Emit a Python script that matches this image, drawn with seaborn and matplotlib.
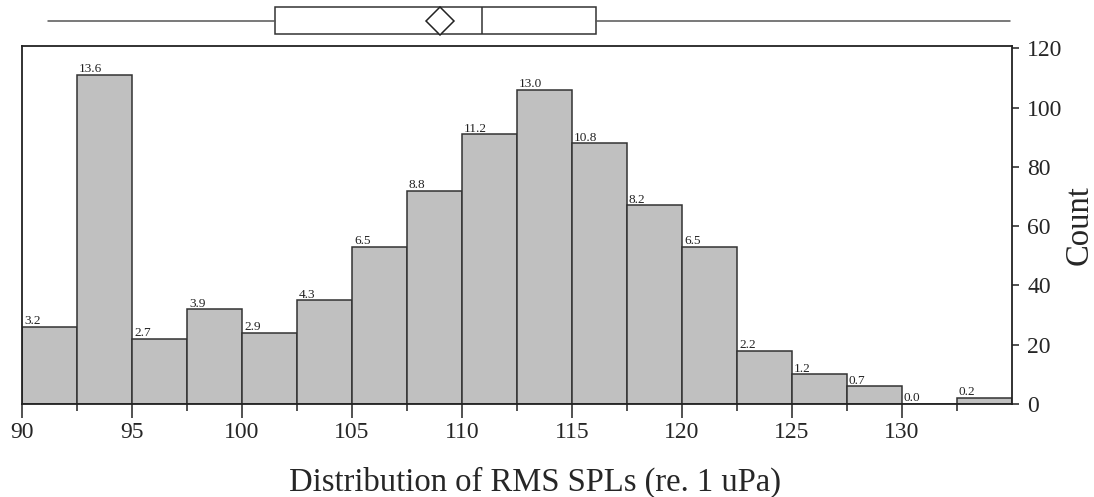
import matplotlib
matplotlib.use("Agg")
import matplotlib.pyplot as plt
import seaborn as sns
import pandas as pd

# ---- data ----
bin_edges = [90, 92.5, 95, 97.5, 100, 102.5, 105, 107.5, 110, 112.5,
             115, 117.5, 120, 122.5, 125, 127.5, 130, 132.5, 135]
counts = [26, 111, 22, 32, 24, 35, 53, 72, 91, 106, 88, 67, 53, 18, 10, 6, 0, 2]
x_ticks = [90, 95, 100, 105, 110, 115, 120, 125, 130]
x_minor = [92.5, 97.5, 102.5, 107.5, 112.5, 117.5, 122.5, 127.5, 132.5]
y_ticks = [0, 20, 40, 60, 80, 100, 120]

# box-plot summary (RMS SPL, dB re 1 uPa)
box_whislo = 91.2
box_q1 = 101.5
box_med = 110.9
box_q3 = 116.1
box_whishi = 134.9
box_mean = 109.0

sns.set_theme(style="ticks")
plt.rcParams['font.family'] = ['Liberation Serif', 'DejaVu Serif']

W, H = 1094, 497
fig = plt.figure(figsize=(W / 100, H / 100), dpi=100)

# ---- main histogram ----
ax = fig.add_axes([22 / W, 1 - 404 / H, 990 / W, (404 - 45.5) / H])
centers = [(a + b) / 2 for a, b in zip(bin_edges[:-1], bin_edges[1:])]
df = pd.DataFrame({'spl': centers, 'n': counts})
sns.histplot(data=df, x='spl', weights='n', bins=bin_edges, color='#c0c0c0',
             edgecolor='#333333', linewidth=1.1, alpha=1, ax=ax)

total = sum(counts)
for p, c in zip(ax.patches, counts):
    ax.text(p.get_x() + 0.09, p.get_height() + 0.9, f"{100 * c / total:.1f}",
            ha='left', va='baseline', fontsize=9.5, color='#222222')

ax.set_xlim(90, 135)
ax.set_ylim(0, 121)
ax.set_xticks(x_ticks)
ax.set_xticks(x_minor, minor=True)
ax.set_yticks(y_ticks)
ax.yaxis.tick_right()
ax.set_xlabel('')
ax.set_ylabel('')
for s in ax.spines.values():
    s.set_visible(True)
    s.set_color('#222222')
    s.set_linewidth(1.3)
ax.tick_params(axis='x', which='major', direction='out', length=10, width=1.1,
               color='#222222', labelsize=17, pad=3, bottom=True)
ax.tick_params(axis='x', which='minor', direction='out', length=5, width=1.1,
               color='#222222', bottom=True)
ax.tick_params(axis='y', which='major', direction='out', length=5, width=1.1,
               color='#222222', labelsize=17, pad=6, right=True, left=False)

fig.text(535 / W, 1 - 491 / H, 'Distribution of RMS SPLs (re. 1 uPa)',
         ha='center', va='baseline', fontsize=23.5)
fig.text(1079 / W, 1 - 225 / H, 'Count', rotation=90, ha='center',
         va='center', fontsize=23.5)

# ---- box plot on top ----
ax2 = fig.add_axes([22 / W, 1 - 37 / H, 990 / W, 33 / H])
stats = [dict(med=box_med, q1=box_q1, q3=box_q3, whislo=box_whislo,
              whishi=box_whishi, mean=box_mean, fliers=[])]
kw = dict(positions=[0], widths=0.8, showmeans=True, showcaps=False,
          showfliers=False, patch_artist=True,
          meanprops=dict(marker='D', markerfacecolor='white',
                         markeredgecolor='#222222', markersize=14,
                         markeredgewidth=1.1),
          boxprops=dict(facecolor='white', edgecolor='#333333', linewidth=1.1),
          medianprops=dict(color='#333333', linewidth=1.1),
          whiskerprops=dict(color='#555555', linewidth=1.1))
try:
    ax2.bxp(stats, orientation='horizontal', **kw)
except TypeError:
    ax2.bxp(stats, vert=False, **kw)
ax2.set_xlim(90, 135)
ax2.set_ylim(-0.5, 0.5)
ax2.axis('off')

fig.savefig('out.png', dpi=100)
